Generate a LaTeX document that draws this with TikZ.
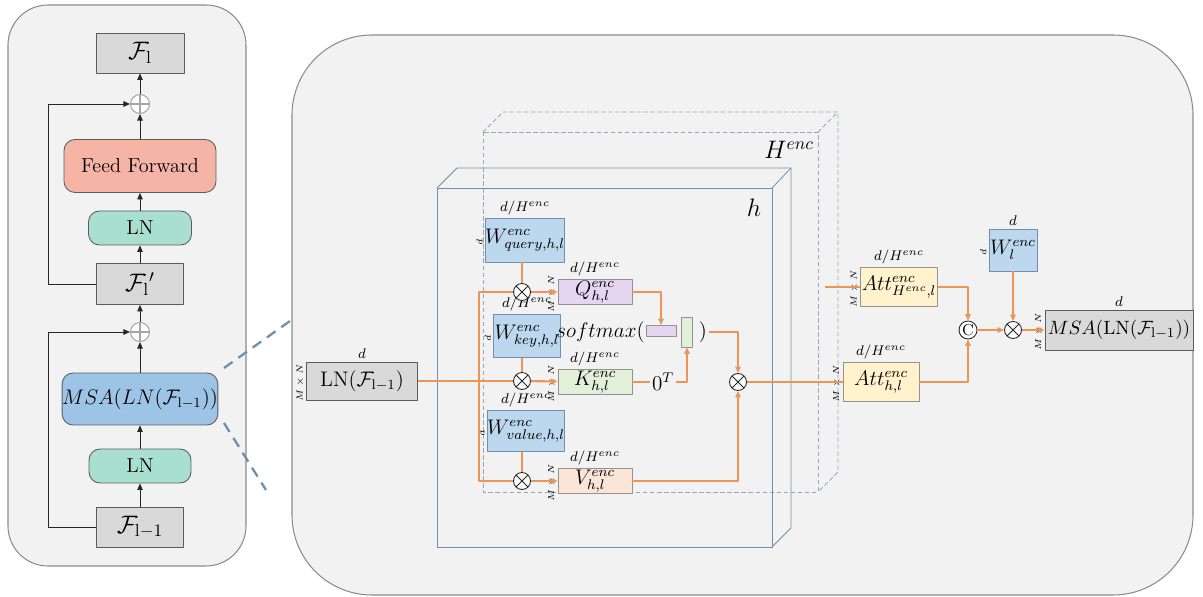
\documentclass[tikz,border=0pt]{standalone}
\usepackage{amsmath}
\usepackage{amssymb}
\usetikzlibrary{arrows.meta,positioning}
\definecolor{ink}{HTML}{262626}
\definecolor{panelfill}{HTML}{F2F2F2}
\definecolor{panelline}{HTML}{8C8C8C}
\definecolor{grayfill}{HTML}{D9D9D9}
\definecolor{ffcol}{HTML}{F6B4A7}
\definecolor{lncol}{HTML}{A9DFCF}
\definecolor{msacol}{HTML}{9DC3E6}
\definecolor{wcol}{HTML}{BDD7EE}
\definecolor{qcol}{HTML}{E5D5F1}
\definecolor{kcol}{HTML}{E2F0D9}
\definecolor{vcol}{HTML}{FBE5D6}
\definecolor{attcol}{HTML}{FFF2CC}
\definecolor{flowcol}{HTML}{EE9455}
\definecolor{cubecol}{HTML}{6F8FB0}
\definecolor{stackcol}{HTML}{9AA6B8}

\begin{document}
\begin{tikzpicture}[
  x=0.02cm, y=-0.02cm, line join=round,
  >={Triangle[length=1.3mm,width=1.1mm]},
  box/.style={draw=ink!75, line width=0.5pt, inner sep=0pt, font=\fontsize{11.5}{14}\selectfont},
  graybox/.style={box, fill=grayfill},
  bigf/.style={font=\Large},
  rbox/.style={box, rounded corners=2.2mm},
  wbox/.style={box, fill=wcol, draw=cubecol},
  smallbox/.style={box, draw=ink!50, font=\large},
  attbox/.style={smallbox, fill=attcol},
  dimlab/.style={font=\footnotesize, inner sep=1.5pt},
  sidelab/.style={font=\tiny, rotate=90, anchor=south, inner sep=1pt, label distance=1pt},
  blk/.style={draw=ink, line width=0.5pt},
  flow/.style={draw=flowcol, line width=1.2pt},
  zoomln/.style={draw=cubecol, line width=1.3pt, dash pattern=on 6pt off 4pt},
  cubeln/.style={draw=cubecol, line width=0.45pt},
  stackln/.style={draw=stackcol, line width=0.45pt, dash pattern=on 2.5pt off 1.5pt},
  mul/.style={circle, draw=ink, fill=white, line width=0.5pt, minimum size=0.34cm, inner sep=0pt,
    path picture={\draw[ink, line width=0.5pt]
      (path picture bounding box.north west) -- (path picture bounding box.south east)
      (path picture bounding box.north east) -- (path picture bounding box.south west);}},
  addc/.style={circle, draw=gray!70, fill=white, line width=0.6pt, minimum size=0.38cm, inner sep=0pt,
    path picture={\draw[gray!70, line width=0.6pt]
      (path picture bounding box.north) -- (path picture bounding box.south)
      (path picture bounding box.west) -- (path picture bounding box.east);}}]

\useasboundingbox (0,0) rectangle (1203,597);

% ---- panels -------------------------------------------------------------
\draw[panelline, fill=panelfill, line width=0.6pt, rounded corners=0.8cm] (8,5) rectangle (246,566);
\draw[panelline, fill=panelfill, line width=0.6pt, rounded corners=1.6cm] (292,35) rectangle (1193,595);

% ---- encoder layer --------------------------------------------------------
\node[graybox, bigf, minimum width=1.76cm, minimum height=0.8cm] (Fl) at (140,53) {$\mathcal{F}_{\mathrm{l}}$};
\node[addc] (addA) at (140,104) {};
\node[rbox, fill=ffcol, minimum width=3.04cm, minimum height=1.06cm] (ff) at (140,166) {Feed Forward};
\node[rbox, fill=lncol, minimum width=2.06cm, minimum height=0.68cm] (lnA) at (140,228) {LN};
\node[graybox, bigf, minimum width=1.74cm, minimum height=0.82cm] (Flp) at (140,284) {$\mathcal{F}_{\mathrm{l}}{}'$};
\node[addc] (addB) at (140,332) {};
\node[rbox, fill=msacol, minimum width=3.08cm, minimum height=1.04cm] (msaA) at (140,399)
  {$MSA(LN(\mathcal{F}_{\mathrm{l-1}}))$};
\node[rbox, fill=lncol, minimum width=2.04cm, minimum height=0.68cm] (lnB) at (140,466) {LN};
\node[graybox, bigf, minimum width=1.74cm, minimum height=0.8cm] (Flm) at (140,527) {$\mathcal{F}_{\mathrm{l-1}}$};

\draw[blk,->] (Flm) -- (lnB);
\draw[blk,->] (lnB) -- (msaA);
\draw[blk,->] (msaA) -- (addB);
\draw[blk,->] (addB) -- (Flp);
\draw[blk,->] (Flp) -- (lnA);
\draw[blk,->] (lnA) -- (ff);
\draw[blk,->] (ff) -- (addA);
\draw[blk,->] (addA) -- (Fl);
\draw[blk,->] (Flm.west) -- ++(-48,0) |- (addB.west);
\draw[blk,->] (Flp.west) -- ++(-48,0) |- (addA.west);

% ---- zoom lines -----------------------------------------------------------
\coordinate (zA1) at (224,368);
\coordinate (zA2) at (290,321);
\coordinate (zB1) at (224,423);
\coordinate (zB2) at (266,490);
\draw[zoomln] (zA1) -- (zA2);
\draw[zoomln] (zB1) -- (zB2);

% ---- heads stack and single head ------------------------------------------
\draw[stackln] (483,132) rectangle (818,492);
\draw[stackln] (483,132) -- (503,112) -- (838,112) -- (838,472) -- (818,492);
\draw[stackln] (818,132) -- (838,112);
\node[font=\Large] (Hlab) at (789,150) {$H^{enc}$};

\draw[cubeln] (437,188) rectangle (772,547);
\draw[cubeln] (437,188) -- (457,168) -- (791,168) -- (791,528) -- (772,547);
\draw[cubeln] (772,188) -- (791,168);
\node[font=\Large] (hlab) at (754,208) {$h$};

% ---- input ----------------------------------------------------------------
\node[graybox, minimum width=2.22cm, minimum height=0.76cm, font=\large,
  label={[dimlab]above:$d$}, label={[sidelab]left:$M\times N$}] (lnC) at (362,381)
  {$\mathrm{LN}(\mathcal{F}_{\mathrm{l-1}})$};

% ---- projections ------------------------------------------------------------
\node[wbox, minimum width=1.34cm, minimum height=0.88cm,
  label={[dimlab]above:$d/H^{enc}$}, label={[sidelab]left:$d$}] (wq) at (525,240) {$W^{enc}_{query,h,l}$};
\node[wbox, minimum width=1.34cm, minimum height=0.86cm,
  label={[dimlab]above:$d/H^{enc}$}, label={[sidelab]left:$d$}] (wk) at (527,336) {$W^{enc}_{key,h,l}$};
\node[wbox, minimum width=1.48cm, minimum height=0.82cm,
  label={[dimlab]above:$d/H^{enc}$}, label={[sidelab]left:$d$}] (wv) at (526,431) {$W^{enc}_{value,h,l}$};

\node[mul] (m1) at (522,292) {};
\node[mul] (m2) at (522,381) {};
\node[mul] (m3) at (522,481) {};
\coordinate (split) at (479,381);

\node[smallbox, fill=qcol, minimum width=1.48cm, minimum height=0.5cm,
  label={[dimlab]above:$d/H^{enc}$}, label={[sidelab]left:$M\times N$}] (q) at (595,292) {$Q^{enc}_{h,l}$};
\node[smallbox, fill=kcol, minimum width=1.48cm, minimum height=0.5cm,
  label={[dimlab]above:$d/H^{enc}$}, label={[sidelab]left:$M\times N$}] (k) at (595,382) {$K^{enc}_{h,l}$};
\node[smallbox, fill=vcol, minimum width=1.48cm, minimum height=0.5cm,
  label={[dimlab]above:$d/H^{enc}$}, label={[sidelab]left:$M\times N$}] (v) at (595,481) {$V^{enc}_{h,l}$};

\draw[flow] (lnC) -- (m2);
\draw[flow] (m1) -| (split) |- (m3);
\draw[flow] (m1 |- wq.south) -- (m1);
\draw[flow] (m2 |- wk.south) -- (m2);
\draw[flow] (m3 |- wv.south) -- (m3);
\draw[flow,->] (m1) -- (q);
\draw[flow,->] (m2) -- (k);
\draw[flow,->] (m3) -- (v);

% ---- attention ----------------------------------------------------------------
\node[anchor=east, inner sep=0pt, font=\large] (smx) at (645,332) {$softmax($};
\node[box, draw=ink!50, fill=qcol, minimum width=0.6cm, minimum height=0.22cm] (qbar) at (661,331) {};
\node[box, draw=ink!50, fill=kcol, minimum width=0.22cm, minimum height=0.6cm] (kbar) at (687,332) {};
\node[inner sep=1pt, font=\large] (rpar) at (703,332) {$)$};
\node[inner sep=1pt, font=\large] (kT) at (663,382) {$0^T$};
\node[mul] (m4) at (738,382) {};

\draw[flow,->] (q) -| (qbar);
\draw[flow] (k) -- (kT);
\draw[flow,->] (kT) -| (kbar);
\draw[flow,->] (rpar) -| (m4);
\draw[flow,->] (v) -| (m4);

% ---- heads merged -------------------------------------------------------------
\node[attbox, minimum width=1.52cm, minimum height=0.78cm,
  label={[dimlab]above:$d/H^{enc}$}, label={[sidelab]left:$M\times N$}] (atth) at (881,382) {$Att^{enc}_{h,l}$};
\node[attbox, minimum width=1.54cm, minimum height=0.78cm,
  label={[dimlab]above:$d/H^{enc}$}, label={[sidelab]left:$M\times N$}] (attH) at (899,287) {$Att^{enc}_{H^{enc},l}$};
\coordinate (hfeed) at (825,287);
\node[circle, draw=ink, fill=white, line width=0.5pt, minimum size=0.36cm, inner sep=0pt, font=\small] (cat) at (968,330) {C};
\node[mul] (m5) at (1013,330) {};
\node[wbox, minimum width=0.96cm, minimum height=0.84cm, font=\large,
  label={[dimlab]above:$d$}, label={[sidelab]left:$d$}] (wl) at (1013,250) {$W^{enc}_{l}$};
\node[graybox, minimum width=2.96cm, minimum height=0.8cm, font=\fontsize{11}{13}\selectfont,
  label={[dimlab]above:$d$}, label={[sidelab]left:$M\times N$}] (msaB) at (1119,330)
  {$MSA(\mathrm{LN}(\mathcal{F}_{\mathrm{l-1}}))$};

\draw[flow] (m4) -- (atth);
\draw[flow] (hfeed) -- (attH);
\draw[flow,->] (attH) -| (cat);
\draw[flow,->] (atth) -| (cat);
\draw[flow,->] (cat) -- (m5);
\draw[flow,->] (wl) -- (m5);
\draw[flow,->] (m5) -- (msaB);

\end{tikzpicture}
\end{document}
